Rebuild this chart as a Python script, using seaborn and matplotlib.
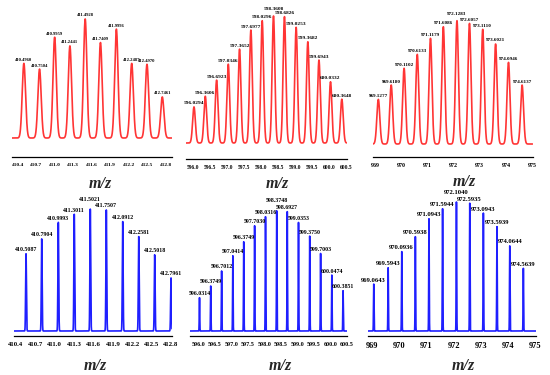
import numpy as np
import pandas as pd
import matplotlib
matplotlib.use("Agg")
import matplotlib.pyplot as plt
import seaborn as sns

# ---------------- data ----------------
# Panel A (top-left, red profile)
a_pos = [410.4960, 410.7504, 410.9959, 411.2441, 411.4928, 411.7409, 411.9996, 412.2487, 412.4970, 412.7461]
a_int = [62.7, 57.9, 84.7, 77.4, 100, 80.2, 91.5, 62.7, 61.9, 34.5]
a_lab = ["410.4960", "410.7504", "410.9959", "411.2441", "411.4928", "411.7409", "411.9996", "412.2487", "412.4970", "412.7461"]
a_ticks = [410.4, 410.7, 411.0, 411.3, 411.6, 411.9, 412.2, 412.5, 412.8]

# Panel B (top-middle, red profile)
b_pos = [596.0294, 596.3606, 596.6923, 597.0346, 597.3652, 597.6977, 598.0296, 598.3608, 598.6826, 599.0253, 599.3682, 599.6943, 600.0332, 600.3648]
b_int = [28.4, 36.8, 49.5, 62.1, 73.9, 88.9, 96.3, 100, 99.5, 91.1, 79.7, 65.3, 48.2, 34.5]
b_lab = ["596.0294", "596.3606", "596.6923", "597.0346", "597.3652", "597.6977", "598.0296", "598.3608", "598.6826", "599.0253", "599.3682", "599.6943", "600.0332", "600.3648"]
b_ticks = [596.0, 596.5, 597.0, 597.5, 598.0, 598.5, 599.0, 599.5, 600.0, 600.5]

# Panel C (top-right, red profile)
c_pos = [969.1277, 969.6180, 970.1102, 970.6133, 971.1179, 971.6086, 972.1283, 972.6057, 973.1110, 973.6021, 974.0946, 974.6137]
c_int = [36.2, 47.8, 61.4, 72.7, 85.7, 95.1, 100, 97.8, 93.0, 81.1, 66.2, 47.8]
c_lab = ["969.1277", "969.6180", "970.1102", "970.6133", "971.1179", "971.6086", "972.1283", "972.6057", "973.1110", "973.6021", "974.0946", "974.6137"]
c_ticks = [969, 970, 971, 972, 973, 974, 975]

# Panel D (bottom-left, blue sticks)
d_pos = [410.555, 410.798, 411.055, 411.302, 411.550, 411.798, 412.052, 412.300, 412.547, 412.800]
d_int = [63.3, 75.5, 89.1, 95.7, 100, 99.2, 89.7, 77.4, 62.5, 43.5]
d_lab = ["410.5087", "410.7904", "410.9993", "411.3011", "411.5021", "411.7507", "412.0912", "412.2581", "412.5018", "412.7961"]
d_ticks = [410.4, 410.7, 411.0, 411.3, 411.6, 411.9, 412.2, 412.5, 412.8]

# Panel E (bottom-middle, blue sticks)
e_pos = [596.03, 596.37, 596.70, 597.04, 597.37, 597.70, 598.03, 598.37, 598.69, 599.03, 599.37, 599.70, 600.04, 600.38]
e_int = [27.7, 37.4, 49.9, 62.6, 74.2, 87.5, 95.0, 100, 99.2, 90.3, 78.9, 64.5, 46.5, 33.5]
e_lab = ["596.0314", "596.3749", "596.7012", "597.0414", "596.3749", "597.7030", "598.0316", "598.3748", "598.6927", "599.0353", "599.3750", "599.7003", "600.0474", "600.3851"]
e_ticks = [596.0, 596.5, 597.0, 597.5, 598.0, 598.5, 599.0, 599.5, 600.0, 600.5]

# Panel F (bottom-right, blue sticks)
f_pos = [969.0643, 969.5943, 970.0936, 970.5938, 971.0943, 971.5944, 972.1040, 972.5935, 973.0943, 973.5939, 974.0644, 974.5639]
f_int = [36.4, 49.1, 61.6, 73.2, 87.0, 94.8, 100, 99.2, 91.4, 81.0, 66.0, 48.6]
f_lab = ["969.0643", "969.5943", "970.0936", "970.5938", "971.0943", "971.5944", "972.1040", "972.5935", "973.0943", "973.5939", "974.0644", "974.5639"]
f_ticks = [969, 970, 971, 972, 973, 974, 975]

xlabel = "m/z"

# ---------------- layout / style ----------------
W, H = 550, 375
sns.set_style("white")
plt.rcParams["font.family"] = ["Liberation Serif", "DejaVu Serif"]

fig = plt.figure(figsize=(W / 100, H / 100), dpi=100)
fig.patch.set_facecolor("white")

RED = "#ff3535"
BLUE = "#1f1fff"

panels = [
    dict(pos=a_pos, inten=a_int, lab=a_lab, ticks=a_ticks, fmt="{:.1f}", color=RED, sigma=0.027,
         xlim=(410.298, 412.899), l=11.7, r=171.7, axis=157, base=138, peak=19, top=4,
         lfs=3.3, tfs=3.9, mz=(100, 184), raise_idx=None, raise_pt=0),
    dict(pos=b_pos, inten=b_int, lab=b_lab, ticks=b_ticks, fmt="{:.1f}", color=RED, sigma=0.04,
         xlim=(595.795, 600.502), l=186, r=346.5, axis=159, base=143, peak=16, top=4,
         lfs=3.9, tfs=4.0, mz=(277, 184), raise_idx=7, raise_pt=2.2),
    dict(pos=c_pos, inten=c_int, lab=c_lab, ticks=c_ticks, fmt="{:.0f}", color=RED, sigma=0.056,
         xlim=(968.924, 975.011), l=373, r=532.5, axis=157, base=144, peak=20.7, top=4,
         lfs=3.7, tfs=4.3, mz=(464, 182), raise_idx=6, raise_pt=2.2),
    dict(pos=d_pos, inten=d_int, lab=d_lab, ticks=d_ticks, fmt="{:.1f}", color=BLUE, sigma=0.006,
         xlim=(410.369, 412.815), l=14, r=172, axis=336, base=331, peak=209, top=192,
         lfs=4.2, tfs=4.9, mz=(95, 366), raise_idx=4, raise_pt=4.3),
    dict(pos=e_pos, inten=e_int, lab=e_lab, ticks=e_ticks, fmt="{:.1f}", color=BLUE, sigma=0.007,
         xlim=(595.742, 600.5), l=190, r=347, axis=336, base=331, peak=210.7, top=192,
         lfs=4.2, tfs=4.4, mz=(280, 366), raise_idx=7, raise_pt=4.3),
    dict(pos=f_pos, inten=f_int, lab=f_lab, ticks=f_ticks, fmt="{:.0f}", color=BLUE, sigma=0.009,
         xlim=(968.842, 975.029), l=367.7, r=536, axis=336, base=331, peak=202, top=188,
         lfs=4.8, tfs=6.0, mz=(463, 366), raise_idx=6, raise_pt=4.0),
]

for p in panels:
    rect = [p["l"] / W, 1 - p["axis"] / H, (p["r"] - p["l"]) / W, (p["axis"] - p["top"]) / H]
    ax = fig.add_axes(rect)
    ax.set_facecolor("none")

    # profile spectrum built from the peak list
    x = np.linspace(p["xlim"][0], p["xlim"][1], 6000)
    y = np.zeros_like(x)
    for mu, h in zip(p["pos"], p["inten"]):
        y += h * np.exp(-0.5 * ((x - mu) / p["sigma"]) ** 2)
    df = pd.DataFrame({"mz": x, "intensity": y})
    sns.lineplot(data=df, x="mz", y="intensity", ax=ax, color=p["color"],
                 linewidth=1.2, estimator=None, sort=False)

    # y mapping: 0 -> baseline pixel, 100 -> peak pixel
    s = (p["base"] - p["peak"]) / 100.0
    ax.set_ylim(-(p["axis"] - p["base"]) / s, 100 + (p["peak"] - p["top"]) / s)
    ax.set_xlim(*p["xlim"])

    # peak labels
    for i, (mu, h, t) in enumerate(zip(p["pos"], p["inten"], p["lab"])):
        dy = 1.1 + (p["raise_pt"] if i == p["raise_idx"] else 0)
        ax.annotate(t, xy=(mu, h), xytext=(0, dy), textcoords="offset points",
                    ha="center", va="bottom", fontsize=p["lfs"], fontweight="bold",
                    color="black", annotation_clip=False)

    # axes styling
    for sp in ["left", "right", "top"]:
        ax.spines[sp].set_visible(False)
    ax.spines["bottom"].set_color("black")
    ax.spines["bottom"].set_linewidth(0.9)
    ax.set_yticks([])
    ax.set_xticks(p["ticks"])
    ax.set_xticklabels([p["fmt"].format(t) for t in p["ticks"]], fontsize=p["tfs"], fontweight="bold")
    ax.tick_params(axis="x", direction="out", length=2.5, width=0.8, pad=1.5, colors="black")
    ax.set_ylabel("")
    ax.set_xlabel(xlabel, fontsize=11.5, fontweight="bold", fontstyle="italic")
    mx, my = p["mz"]
    ax.xaxis.set_label_coords((mx - p["l"]) / (p["r"] - p["l"]),
                              (p["axis"] - my) / (p["axis"] - p["top"]))
    ax.xaxis.label.set_va("center")
    ax.xaxis.label.set_ha("center")

fig.savefig("out.png", dpi=100, facecolor="white")
